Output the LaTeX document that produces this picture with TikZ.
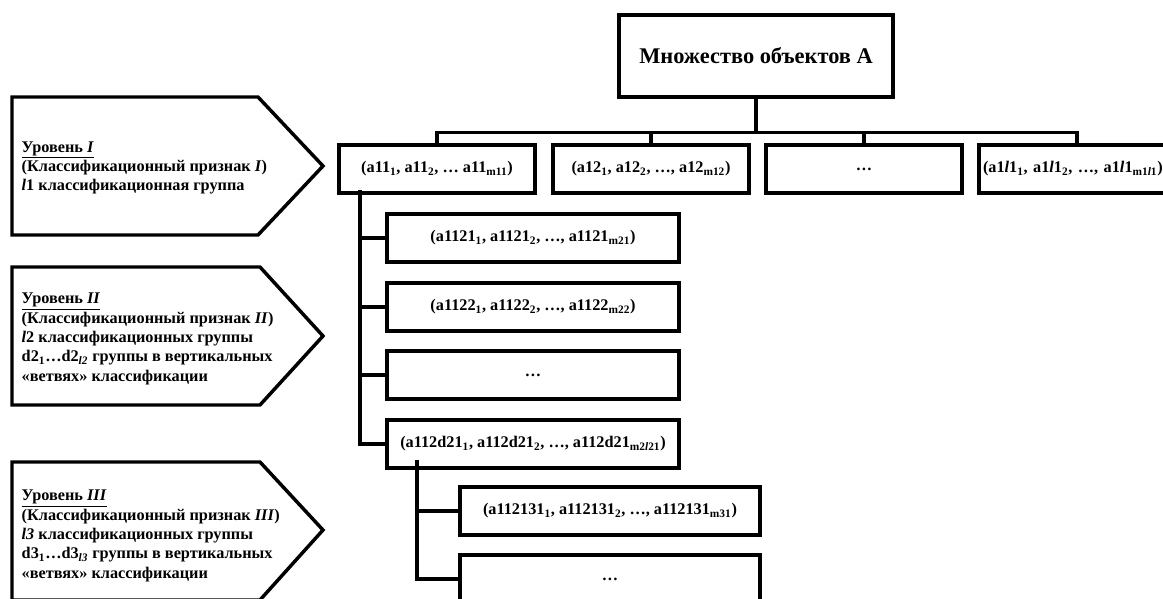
\documentclass[tikz,border=0pt]{standalone}
\usepackage{fontspec}
\setmainfont{Liberation Serif}

\begin{document}
\begin{tikzpicture}[
    x=0.75pt, y=-0.75pt,
    font=\bfseries\fontsize{12.2}{14.5}\selectfont,
    text centered,
	block/.style={
	  rectangle,
	  line width=2.6pt,
	  draw=black,
	  inner sep=0pt,
	  minimum height=36pt
	},
	level/.style={
	  line width=2.6pt,
	  draw=black,
	  line join=miter
	},
	levtext/.style={anchor=west, align=left},
 	line/.style={draw, line width=2.6pt}
	]
	\clip (0,0) rectangle (1163,599);
	% levels
	\draw[level] (12,97) -- (258,97) -- (323,166) -- (258,235) -- (12,235) -- cycle;
	\draw[level] (12,267) -- (260,267) -- (323,336) -- (260,405) -- (12,405) -- cycle;
	\draw[level] (12,462) -- (260,462) -- (323,530) -- (260,600) -- (12,600) -- cycle;
	\node [levtext] at (17,168) (lev1) {\underline{Уровень \textit{I}}\\(Классификационный признак \textit{I})\\\textit{l}1 классификационная группа};
	\node [levtext] at (17,339) (lev2) {\underline{Уровень \textit{II}}\\(Классификационный признак \textit{II})\\\textit{l}2 классификационных группы\\d2\textsubscript{1}…d2\textsubscript{\textit{l2}} группы в вертикальных\\«ветвях» классификации};
	\node [levtext] at (17,536) (lev3) {\underline{Уровень \textit{III}}\\(Классификационный признак \textit{III})\\\textit{l3} классификационных группы\\d3\textsubscript{1}…d3\textsubscript{\textit{l3}} группы в вертикальных\\«ветвях» классификации};
	% tree
	\node [block, minimum width=205.5pt, minimum height=61.5pt, font=\bfseries\fontsize{16.8}{20}\selectfont] at (756,56) (set) {Множество объектов А};
	\node [block, minimum width=147pt] at (437,169) (r11) {(a11\textsubscript{1}, a11\textsubscript{2}, … a11\textsubscript{m11})};
	\node [block, minimum width=147pt] at (651,169) (r12) {(a12\textsubscript{1}, a12\textsubscript{2}, …, a12\textsubscript{m12})};
	\node [block, minimum width=147pt] at (864,169) (r13) {…};
	\node [block, minimum width=147pt, text width=141pt, align=left] at (1077,169) (r14) {(a1\textit{l}1\textsubscript{1}, a1\textit{l}1\textsubscript{2}, …, a1\textit{l}1\textsubscript{m1\textit{l}1})};
	\node [block, minimum width=219pt] at (533,238) (r21) {(a1121\textsubscript{1}, a1121\textsubscript{2}, …, a1121\textsubscript{m21})};
	\node [block, minimum width=219pt] at (533,307) (r22) {(a1122\textsubscript{1}, a1122\textsubscript{2}, …, a1122\textsubscript{m22})};
	\node [block, minimum width=219pt] at (533,375) (r23) {…};
	\node [block, minimum width=219pt] at (533,444) (r24) {(a112d21\textsubscript{1}, a112d21\textsubscript{2}, …, a112d21\textsubscript{m2\textit{l}21})};
	\node [block, minimum width=225pt] at (610,511) (r31) {(a112131\textsubscript{1}, a112131\textsubscript{2}, …, a112131\textsubscript{m31})};
	\node [block, minimum width=225pt] at (610,579) (r32) {…};
	\path[line] (r11.north) -- ++(0,-11) coordinate (bus) -- (bus -| r14.north) -- (r14.north);
	\path[line] (set.south) -- (set.south |- bus);
	\path[line] (r12.north) -- (r12.north |- bus);
	\path[line] (r13.north) -- (r13.north |- bus);
	\coordinate (t2) at (360,190);
	\path[line] (t2) |- (r24.west);
	\path[line] (t2 |- r21.west) -- (r21.west);
	\path[line] (t2 |- r22.west) -- (r22.west);
	\path[line] (t2 |- r23.west) -- (r23.west);
	\coordinate (t3) at (417,460);
	\path[line] (t3) |- (r32.west);
	\path[line] (t3 |- r31.west) -- (r31.west);
\end{tikzpicture}
\end{document}
